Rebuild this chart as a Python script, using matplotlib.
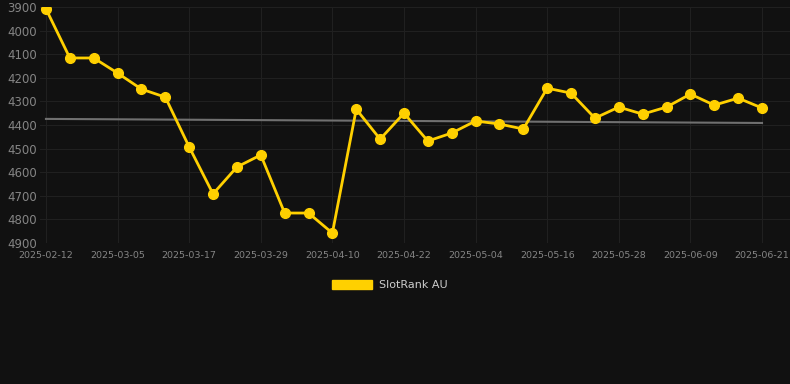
import matplotlib
matplotlib.use("Agg")
import matplotlib.pyplot as plt
import matplotlib.patches as mpatches
import numpy as np

dates = ["2025-02-12", "2025-02-19", "2025-02-26", "2025-03-05", "2025-03-09", "2025-03-13",
         "2025-03-17", "2025-03-21", "2025-03-25", "2025-03-29", "2025-04-02", "2025-04-06",
         "2025-04-10", "2025-04-14", "2025-04-18", "2025-04-22", "2025-04-26", "2025-04-30",
         "2025-05-04", "2025-05-08", "2025-05-12", "2025-05-16", "2025-05-20", "2025-05-24",
         "2025-05-28", "2025-06-01", "2025-06-05", "2025-06-09", "2025-06-13", "2025-06-17",
         "2025-06-21"]
ranks = [3908, 4116, 4116, 4180, 4248, 4282, 4493, 4692, 4578, 4527, 4773, 4773, 4858,
         4333, 4460, 4350, 4468, 4434, 4383, 4396, 4417, 4244, 4265, 4371, 4324, 4354,
         4324, 4269, 4316, 4286, 4328]
y_ticks = [3900, 4000, 4100, 4200, 4300, 4400, 4500, 4600, 4700, 4800, 4900]
series_name = "SlotRank AU"

W, H = 790, 384
fig = plt.figure(figsize=(W / 100, H / 100), dpi=100)
fig.patch.set_facecolor("#111111")
ax = fig.add_axes([40 / W, 1 - 243 / H, (790 - 40) / W, (243 - 7) / H])
ax.set_facecolor("#111111")

x = np.arange(len(dates))
y = np.array(ranks, dtype=float)

# trend line
k, b = np.polyfit(x, y, 1)
ax.plot(x, k * x + b, color="#707070", lw=1.5, zorder=2)

gold = "#FFD000"
ax.plot(x, y, color=gold, lw=2.0, marker="o", ms=7, zorder=3)

ax.set_ylim(4900, 3900)
ax.set_xlim(-0.25, 30 + 28 / 23.87)
ax.set_yticks(y_ticks)
ax.set_yticklabels([str(t) for t in y_ticks])
ax.set_xticks(x[::3])
ax.set_xticklabels([dates[i] for i in range(0, len(dates), 3)])

ax.grid(True, color="#202020", lw=0.8)
ax.set_axisbelow(True)
for s in ax.spines.values():
    s.set_visible(False)
ax.tick_params(axis="y", length=0, pad=2, labelsize=8.5, labelcolor="#858585")
ax.tick_params(axis="x", length=0, pad=6, labelsize=6.8, labelcolor="#858585")

handle = mpatches.Patch(color=gold, label=series_name)
leg = fig.legend(handles=[handle], loc="center", bbox_to_anchor=(390 / W, 1 - 285 / H),
                 frameon=False, fontsize=8, handlelength=3.6, handleheight=0.9,
                 handletextpad=0.6, labelcolor="#cccccc")

fig.savefig("out.png", dpi=100, facecolor=fig.get_facecolor())
